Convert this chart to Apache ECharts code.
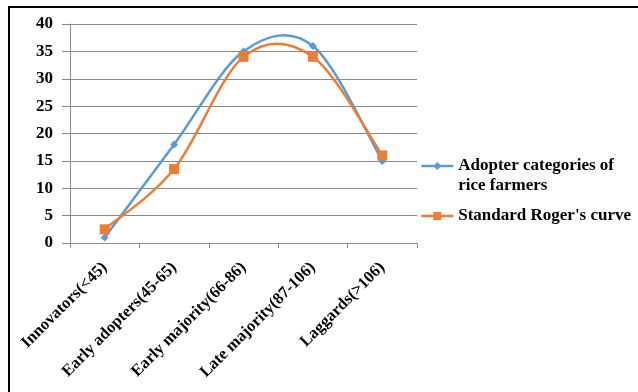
<!DOCTYPE html>
<html><head><meta charset="utf-8">
<script src="https://cdn.jsdelivr.net/npm/echarts@6/dist/echarts.min.js"></script>
<style>html,body{margin:0;padding:0;background:#fff}#c{width:638px;height:392px}</style>
</head><body><div id="c"></div>
<script>
const categories = ['Innovators(<45)', 'Early adopters(45-65)', 'Early majority(66-86)', 'Late majority(87-106)', 'Laggards(>106)'];
const adopterValues = [1, 18, 35, 36, 15];
const rogersValues = [2.5, 13.5, 34, 34, 16];
const seriesNames = ['Adopter categories of rice farmers', "Standard Roger's curve"];
const yTicks = { min: 0, max: 40, interval: 5 };

const font = '"Liberation Serif", "Times New Roman", serif';
const BLUE = '#5b9bd5', ORANGE = '#ed7d31';

// Excel-like smooth curve (Catmull-Rom -> cubic Bezier) through points projected by the axes
function smoothRender(values, color) {
  return function (params, api) {
    if (params.dataIndex !== 0) return;
    const pts = values.map(function (v, i) { return api.coord([i, v]); });
    let d = 'M' + pts[0][0] + ' ' + pts[0][1];
    for (let i = 0; i < pts.length - 1; i++) {
      const p0 = pts[Math.max(i - 1, 0)], p1 = pts[i], p2 = pts[i + 1], p3 = pts[Math.min(i + 2, pts.length - 1)];
      const c1 = [p1[0] + (p2[0] - p0[0]) / 6, p1[1] + (p2[1] - p0[1]) / 6];
      const c2 = [p2[0] - (p3[0] - p1[0]) / 6, p2[1] - (p3[1] - p1[1]) / 6];
      d += ' C' + c1[0] + ' ' + c1[1] + ' ' + c2[0] + ' ' + c2[1] + ' ' + p2[0] + ' ' + p2[1];
    }
    return { type: 'path', shape: { pathData: d }, style: { fill: 'none', stroke: color, lineWidth: 2.5 } };
  };
}

const chart = echarts.init(document.getElementById('c'));
chart.setOption({
  animation: false,
  graphic: [{ type: 'rect', shape: { x: 9, y: 7, width: 700, height: 500 }, style: { fill: 'none', stroke: '#000', lineWidth: 2 } }],
  grid: { left: 70, right: 221, top: 24, bottom: 149 },
  legend: {
    orient: 'vertical', left: 420, top: 136, padding: 0, itemWidth: 32, itemHeight: 10, itemGap: 10,
    lineStyle: { opacity: 1, width: 2.5 },
    data: [seriesNames[0], seriesNames[1]],
    formatter: function (n) { return n === seriesNames[0] ? ' \nAdopter categories of\nrice farmers' : n; },
    textStyle: { fontFamily: font, fontWeight: 'bold', fontSize: 17, color: '#000', lineHeight: 20 }
  },
  xAxis: {
    type: 'category', data: categories, boundaryGap: true,
    axisLine: { lineStyle: { color: '#898989', width: 1 } },
    axisTick: { show: true, length: 5, lineStyle: { color: '#898989' } },
    axisLabel: { rotate: 45, interval: 0, margin: 22, fontFamily: font, fontWeight: 'bold', fontSize: 16.5, color: '#000' }
  },
  yAxis: {
    type: 'value', min: yTicks.min, max: yTicks.max, interval: yTicks.interval,
    axisLine: { show: true, lineStyle: { color: '#898989' } },
    axisTick: { show: true, length: 8, lineStyle: { color: '#898989' } },
    splitLine: { lineStyle: { color: '#898989' } },
    axisLabel: { margin: 17, fontFamily: font, fontWeight: 'bold', fontSize: 17, color: '#000' }
  },
  series: [
    { type: 'custom', data: adopterValues.map(function (v, i) { return [i, v]; }), renderItem: smoothRender(adopterValues, BLUE), z: 2, silent: true, clip: false },
    { type: 'custom', data: rogersValues.map(function (v, i) { return [i, v]; }), renderItem: smoothRender(rogersValues, ORANGE), z: 2, silent: true, clip: false },
    { name: seriesNames[0], type: 'line', data: adopterValues, symbol: 'diamond', symbolSize: 8, z: 4,
      itemStyle: { color: BLUE }, lineStyle: { width: 2.5, color: BLUE, opacity: 0 } },
    { name: seriesNames[1], type: 'line', data: rogersValues, symbol: 'rect', symbolSize: 10, z: 5,
      itemStyle: { color: ORANGE }, lineStyle: { width: 2.5, color: ORANGE, opacity: 0 } }
  ]
});
</script></body></html>
